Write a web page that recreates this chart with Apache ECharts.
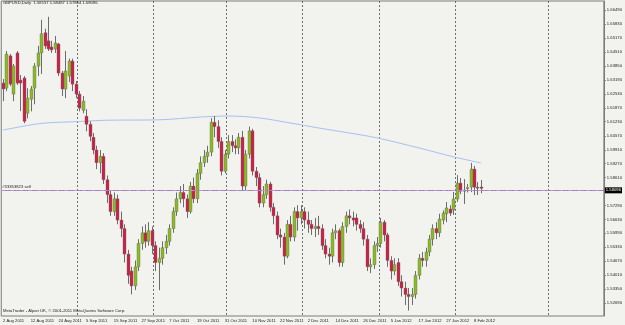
<!DOCTYPE html>
<html>
<head>
<meta charset="utf-8">
<title>GBPUSD,Daily</title>
<script src="https://cdn.jsdelivr.net/npm/echarts@6/dist/echarts.min.js"></script>
<style>
  html, body { margin: 0; padding: 0; background: #f2f2ef; }
  #chart { width: 625px; height: 325px; }
</style>
</head>
<body>
<div id="chart"></div>
<script>
// daily bars GBPUSD, one row per bar: [open, high, low, close]
const bars = [
  [1.6305,1.6324,1.6220,1.6277],[1.6281,1.6456,1.6267,1.6442],[1.6433,1.6442,1.6291,1.6300],[1.6253,1.6395,1.6220,1.6385],
  [1.6447,1.6456,1.6296,1.6305],[1.6319,1.6343,1.6173,1.6305],[1.6329,1.6338,1.6116,1.6125],[1.6163,1.6281,1.6139,1.6234],
  [1.6229,1.6291,1.6172,1.6277],[1.6281,1.6399,1.6205,1.6385],[1.6385,1.6480,1.6338,1.6447],[1.6447,1.6603,1.6348,1.6537],
  [1.6542,1.6561,1.6466,1.6480],[1.6504,1.6617,1.6456,1.6466],[1.6475,1.6504,1.6447,1.6461],[1.6466,1.6527,1.6447,1.6494],
  [1.6489,1.6494,1.6338,1.6352],[1.6352,1.6362,1.6244,1.6277],[1.6277,1.6456,1.6234,1.6362],[1.6338,1.6420,1.6310,1.6409],
  [1.6409,1.6420,1.6267,1.6300],[1.6300,1.6315,1.6234,1.6253],[1.6253,1.6267,1.6172,1.6187],[1.6177,1.6244,1.6163,1.6220],
  [1.6149,1.6182,1.6078,1.6111],[1.6111,1.6125,1.6031,1.6054],[1.6050,1.6070,1.5970,1.5990],[1.5990,1.6010,1.5900,1.5930],
  [1.5930,1.5990,1.5880,1.5960],[1.5960,1.5975,1.5830,1.5850],[1.5850,1.5870,1.5740,1.5780],[1.5780,1.5800,1.5680,1.5700],
  [1.5700,1.5790,1.5680,1.5760],[1.5760,1.5780,1.5640,1.5660],[1.5660,1.5700,1.5580,1.5620],[1.5620,1.5640,1.5460,1.5500],
  [1.5500,1.5520,1.5360,1.5400],[1.5420,1.5440,1.5310,1.5350],[1.5350,1.5470,1.5330,1.5440],[1.5440,1.5570,1.5420,1.5550],
  [1.5550,1.5630,1.5520,1.5600],[1.5600,1.5640,1.5530,1.5560],[1.5560,1.5650,1.5540,1.5610],[1.5610,1.5630,1.5500,1.5540],
  [1.5540,1.5560,1.5420,1.5460],[1.5460,1.5530,1.5330,1.5480],[1.5480,1.5560,1.5450,1.5530],[1.5530,1.5590,1.5500,1.5560],
  [1.5560,1.5640,1.5540,1.5620],[1.5620,1.5720,1.5600,1.5700],[1.5700,1.5790,1.5680,1.5760],[1.5760,1.5820,1.5740,1.5790],
  [1.5790,1.5830,1.5720,1.5760],[1.5760,1.5780,1.5670,1.5700],[1.5700,1.5840,1.5690,1.5820],[1.5820,1.5860,1.5740,1.5760],
  [1.5760,1.5900,1.5740,1.5880],[1.5880,1.5960,1.5850,1.5930],[1.5930,1.5990,1.5910,1.5960],[1.5960,1.6010,1.5930,1.5980],
  [1.5980,1.6140,1.5960,1.6120],[1.6120,1.6150,1.6050,1.6100],[1.6100,1.6130,1.6000,1.6030],[1.6030,1.6050,1.5870,1.5890],
  [1.5890,1.5990,1.5880,1.5970],[1.5970,1.6060,1.5950,1.6030],[1.6030,1.6060,1.5980,1.6010],[1.6010,1.6040,1.5970,1.6000],
  [1.6000,1.6070,1.5970,1.6050],[1.6050,1.6080,1.5800,1.5820],[1.5820,1.5990,1.5800,1.5970],[1.5970,1.6100,1.5950,1.6080],
  [1.6080,1.6090,1.5870,1.5890],[1.5890,1.5910,1.5820,1.5860],[1.5860,1.5880,1.5720,1.5740],[1.5740,1.5820,1.5720,1.5780],
  [1.5780,1.5850,1.5760,1.5830],[1.5830,1.5840,1.5700,1.5720],[1.5720,1.5740,1.5640,1.5680],[1.5680,1.5700,1.5570,1.5590],
  [1.5590,1.5620,1.5530,1.5580],[1.5580,1.5600,1.5450,1.5490],[1.5490,1.5660,1.5480,1.5640],[1.5640,1.5680,1.5560,1.5580],
  [1.5580,1.5720,1.5560,1.5700],[1.5700,1.5730,1.5610,1.5670],[1.5670,1.5730,1.5640,1.5700],[1.5700,1.5720,1.5620,1.5660],
  [1.5660,1.5700,1.5600,1.5640],[1.5640,1.5660,1.5590,1.5620],[1.5620,1.5670,1.5580,1.5630],[1.5630,1.5680,1.5590,1.5620],
  [1.5620,1.5640,1.5520,1.5540],[1.5540,1.5570,1.5480,1.5500],[1.5500,1.5530,1.5450,1.5490],[1.5490,1.5620,1.5460,1.5600],
  [1.5600,1.5640,1.5570,1.5610],[1.5610,1.5620,1.5440,1.5460],[1.5460,1.5650,1.5440,1.5630],[1.5630,1.5700,1.5600,1.5680],
  [1.5680,1.5710,1.5640,1.5670],[1.5670,1.5700,1.5630,1.5660],[1.5670,1.5690,1.5610,1.5640],[1.5640,1.5660,1.5600,1.5620],
  [1.5620,1.5650,1.5540,1.5570],[1.5570,1.5590,1.5420,1.5440],[1.5440,1.5480,1.5410,1.5450],[1.5450,1.5560,1.5430,1.5540],
  [1.5540,1.5580,1.5510,1.5550],[1.5550,1.5670,1.5530,1.5650],[1.5650,1.5660,1.5560,1.5590],[1.5590,1.5600,1.5440,1.5470],
  [1.5470,1.5490,1.5380,1.5420],[1.5420,1.5480,1.5400,1.5450],[1.5460,1.5480,1.5350,1.5370],[1.5370,1.5400,1.5300,1.5340],
  [1.5340,1.5370,1.5260,1.5310],[1.5310,1.5340,1.5234,1.5300],[1.5300,1.5340,1.5260,1.5310],[1.5310,1.5420,1.5290,1.5400],
  [1.5400,1.5500,1.5380,1.5480],[1.5480,1.5510,1.5440,1.5470],[1.5470,1.5530,1.5440,1.5510],[1.5510,1.5590,1.5490,1.5570],
  [1.5570,1.5640,1.5540,1.5620],[1.5620,1.5650,1.5570,1.5600],[1.5600,1.5690,1.5580,1.5665],[1.5660,1.5705,1.5640,1.5693],
  [1.5690,1.5745,1.5650,1.5717],[1.5712,1.5730,1.5680,1.5693],[1.5708,1.5792,1.5684,1.5759],[1.5759,1.5872,1.5745,1.5834],
  [1.5834,1.5858,1.5782,1.5796],[1.5801,1.5853,1.5736,1.5799],[1.5810,1.5830,1.5790,1.5813],[1.5815,1.5929,1.5792,1.5900],
  [1.5900,1.5915,1.5777,1.5815],[1.5815,1.5839,1.5778,1.5813],[1.58157,1.58487,1.57864,1.58096]
];

// blue moving average, read at a few bars: [bar index, value]
const maPoints = [
  [0,1.6084],[11,1.6115],[22,1.6124],[30,1.6130],[45,1.6132],[57,1.6145],[65,1.6150],[74,1.6141],
  [83,1.6117],[91,1.6094],[100,1.6070],[108,1.6047],[120,1.6000],[130,1.5958],[138,1.5929]
];

// time scale labels, one every 8 bars
const dateLabels = ['2 Aug 2011','12 Aug 2011','24 Aug 2011','5 Sep 2011','15 Sep 2011','27 Sep 2011',
  '7 Oct 2011','19 Oct 2011','31 Oct 2011','10 Nov 2011','22 Nov 2011','2 Dec 2011','14 Dec 2011',
  '26 Dec 2011','5 Jan 2012','17 Jan 2012','27 Jan 2012','8 Feb 2012'];

// price scale labels (1.57950 sits under the bid box)
const priceTicks = [1.66490,1.65830,1.65170,1.64510,1.63850,1.63190,1.62530,1.61870,1.61230,1.60570,
  1.59910,1.59270,1.58610,1.57290,1.56630,1.55990,1.55330,1.54670,1.54010,1.53350,1.52690];

const monthBreaks = [22,44,65,87,109,131,158]; // period separators (bar index)
const slotCount = 174;                          // bar slots visible incl. empty right side
const bidPrice = 1.58096;
const sellPrice = 1.5824;
const headerText = 'GBPUSD,Daily  1.58157 1.58487 1.57864 1.58096';

const categories = [];
for (let i = 0; i < slotCount; i++) {
  categories.push(i % 8 === 0 && dateLabels[i / 8] ? dateLabels[i / 8] : '');
}
const candleData = bars.map((b, i) => [i, b[0], b[1], b[2], b[3]]);

const fontName = 'Liberation Sans';
const bullColor = '#8cbb1f';
const bearColor = '#cc1f45';
const wickColor = '#6c6c6c';

const renderCandle = (params, api) => {
  const i = api.value(0);
  const pO = api.coord([i, api.value(1)]);
  const pH = api.coord([i, api.value(2)]);
  const pL = api.coord([i, api.value(3)]);
  const pC = api.coord([i, api.value(4)]);
  const up = api.value(4) >= api.value(1);
  const x = Math.round(pO[0]) + 0.5;
  const top = Math.min(pO[1], pC[1]);
  const h = Math.max(Math.abs(pO[1] - pC[1]), 1);
  return {
    type: 'group',
    children: [
      { type: 'line', shape: { x1: x, y1: pH[1], x2: x, y2: pL[1] }, style: { stroke: wickColor, lineWidth: 1 } },
      { type: 'rect', shape: { x: x - 1.5, y: top, width: 3, height: h },
        style: { fill: up ? bullColor : bearColor, stroke: wickColor, lineWidth: 0.4 } }
    ]
  };
};

const chart = echarts.init(document.getElementById('chart'));
chart.setOption({
  backgroundColor: '#f2f2ef',
  animation: false,
  textStyle: { fontFamily: fontName },
  title: [
    { text: headerText, left: 3, top: 1, padding: 0,
      textStyle: { fontSize: 4.2, fontWeight: 'normal', color: '#222', fontFamily: fontName } },
    { text: 'MetaTrader - Alpari UK, \u00a9 2001-2011 MetaQuotes Software Corp.', left: 3, top: 309, padding: 0,
      textStyle: { fontSize: 4.2, fontWeight: 'normal', color: '#222', fontFamily: fontName } }
  ],
  grid: { left: 1, right: 18, top: 1, bottom: 9, show: true, borderColor: '#7c7c7c', borderWidth: 1 },
  xAxis: {
    type: 'category',
    data: categories,
    boundaryGap: true,
    axisLine: { show: false },
    axisTick: { show: false },
    axisLabel: {
      interval: (i, v) => v !== '',
      align: 'left', margin: 3, fontSize: 4.2, color: '#222', fontFamily: fontName
    },
    splitLine: {
      show: true,
      interval: (i) => monthBreaks.includes(i),
      lineStyle: { color: '#6e6e6e', type: [2, 2], width: 1 }
    }
  },
  yAxis: {
    type: 'value',
    position: 'right',
    min: 1.52084,
    max: 1.66914,
    axisLine: { show: true, lineStyle: { color: '#7c7c7c' } },
    axisTick: { show: true, length: 2, customValues: priceTicks, lineStyle: { color: '#7c7c7c' } },
    axisLabel: {
      customValues: priceTicks, margin: 3, fontSize: 4.2, color: '#222', fontFamily: fontName,
      formatter: v => v.toFixed(5)
    },
    splitLine: { show: false }
  },
  series: [
    {
      type: 'custom',
      renderItem: renderCandle,
      data: candleData,
      encode: { x: 0, y: [1, 2, 3, 4] },
      z: 3
    },
    {
      type: 'line',
      data: maPoints,
      showSymbol: false,
      smooth: 0.3,
      lineStyle: { color: '#a6c2ee', width: 1 },
      z: 2,
      markLine: {
        silent: true,
        symbol: 'none',
        data: [
          {
            yAxis: bidPrice,
            lineStyle: { color: '#8a8a8a', type: 'solid', width: 1 },
            label: { show: true, position: 'end', formatter: bidPrice.toFixed(5), fontSize: 4.2,
              color: '#fff', backgroundColor: '#000', padding: [1, 1], distance: 1, fontFamily: fontName }
          },
          {
            yAxis: sellPrice,
            lineStyle: { color: '#c98ded', type: [4, 2, 1, 2], width: 1 },
            label: { show: true, position: 'insideStartTop', formatter: '#33353823 sell', fontSize: 4.2,
              color: '#222', distance: 1, fontFamily: fontName }
          }
        ]
      }
    }
  ]
});
</script>
</body>
</html>
